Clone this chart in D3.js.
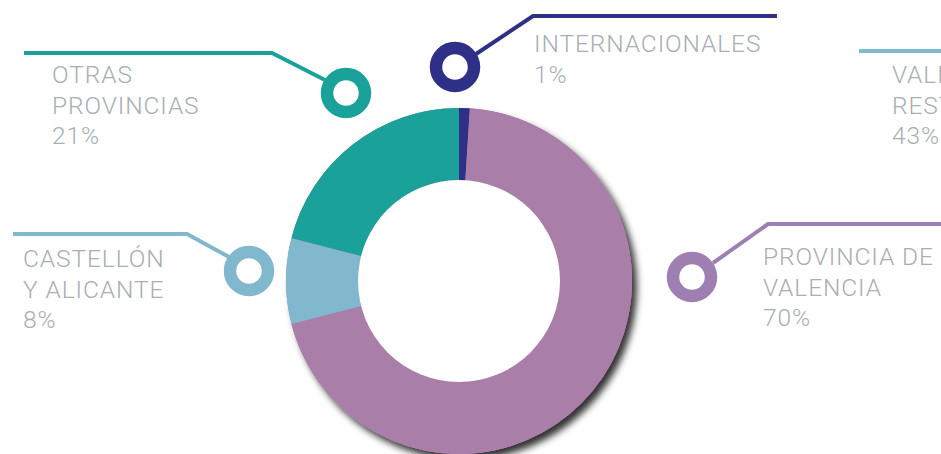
<!DOCTYPE html>
<html><head><meta charset="utf-8">
<script src="https://cdn.jsdelivr.net/npm/d3@7"></script>
<style>html,body{margin:0;padding:0;background:#fff;overflow:hidden}</style>
</head><body>
<svg id="chart" width="941" height="454"></svg>
<script>
// ---- data ----
const categories = ["INTERNACIONALES", "PROVINCIA DE VALENCIA", "CASTELLÓN Y ALICANTE", "OTRAS PROVINCIAS"];
const values = [1, 70, 8, 21];
const sliceColors = ["#2e2f86", "#a97ea8", "#82b8cd", "#1aa199"];
const labelLines = [
  ["INTERNACIONALES", "1%"],
  ["PROVINCIA DE", "VALENCIA", "70%"],
  ["CASTELLÓN", "Y ALICANTE", "8%"],
  ["OTRAS", "PROVINCIAS", "21%"]
];
const extraLabel = ["VALENCIA", "RESTO", "43%"];

// ---- layout (positions, not data) ----
const W = 941, H = 454;
const cx = 459, cy = 281, R = 173, r0 = 101;
const calloutColors = ["#2e2f86", "#9d80b1", "#82b8cd", "#1aa199"];
const callouts = [
  {ring:[455,67], path:[[476,54],[533,16],[777,16]], text:[534,52]},
  {ring:[692,277], path:[[713,263],[768,224],[950,224]], text:[763,265]},
  {ring:[249,271], path:[[229,257],[187,234],[13,234]], text:[23,267]},
  {ring:[346,93], path:[[325,80],[272,53],[24,53]], text:[52,83]}
];
const extra = {path:[[859,51],[950,51]], text:[892,83], color:"#82b8cd"};

const svg = d3.select("#chart");
const defs = svg.append("defs");
const f = defs.append("filter").attr("id","shadow").attr("x","-20%").attr("y","-20%").attr("width","140%").attr("height","140%");
f.append("feDropShadow").attr("dx",5).attr("dy",6).attr("stdDeviation",3.5)
  .attr("flood-color","#000").attr("flood-opacity",0.8);

const g = svg.append("g").attr("transform",`translate(${cx},${cy})`);
// shadow disc behind the donut
g.append("circle").attr("r",R).attr("fill","#a97ea8").attr("filter","url(#shadow)");

const pie = d3.pie().sort(null).value(d => d);
const arc = d3.arc().innerRadius(r0).outerRadius(R);
g.selectAll("path.slice").data(pie(values)).join("path")
  .attr("class","slice").attr("d",arc).attr("fill",(d,i)=>sliceColors[i]);
g.append("circle").attr("r",r0).attr("fill","#fff");

const line = d3.line();
const textColor = "#a8aeb2";
const fontFam = "Roboto, 'Open Sans', sans-serif";
const lh = 30.5;

function drawCallout(c, color, lines, hasRing){
  svg.append("path").attr("d",line(c.path)).attr("fill","none")
    .attr("stroke",color).attr("stroke-width",4);
  if(hasRing){
    svg.append("circle").attr("cx",c.ring[0]).attr("cy",c.ring[1]).attr("r",19)
      .attr("fill","#fff").attr("stroke",color).attr("stroke-width",12.5);
  }
  const t = svg.append("text").attr("x",c.text[0]).attr("y",c.text[1])
    .attr("fill",textColor).attr("font-family",fontFam).attr("font-weight",300)
    .attr("font-size",24.5).attr("letter-spacing",0.9);
  lines.forEach((s,i)=>{
    t.append("tspan").attr("x",c.text[0]).attr("y",c.text[1]+i*lh).text(s);
  });
}
callouts.forEach((c,i)=>drawCallout(c, calloutColors[i], labelLines[i], true));
drawCallout(extra, extra.color, extraLabel, false);
</script>
</body></html>
